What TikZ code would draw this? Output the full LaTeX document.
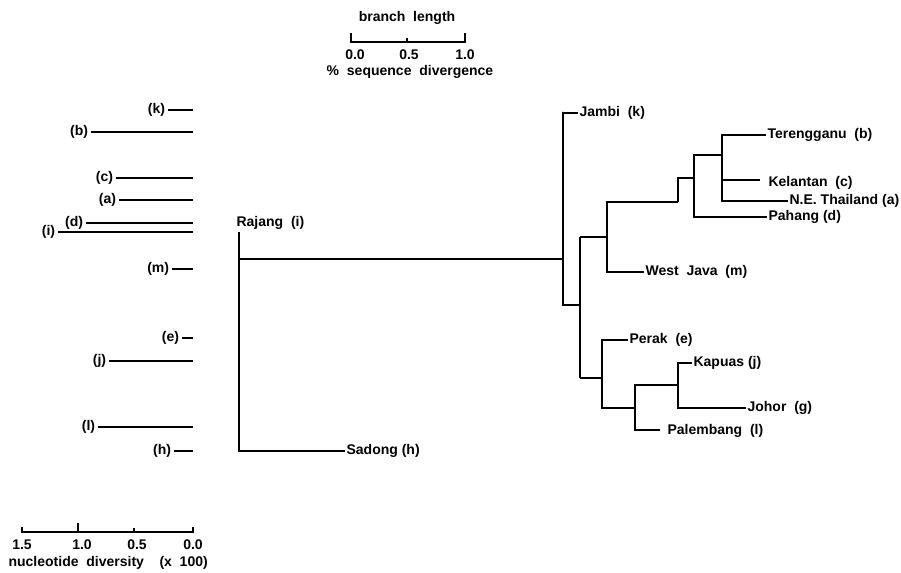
\documentclass[tikz,border=0pt]{standalone}
\usepackage{fontspec}
\setmainfont{Liberation Sans}
\begin{document}
\begin{tikzpicture}[x=0.75pt,y=-0.75pt,
  lab/.style={font=\bfseries\fontsize{10.5pt}{12pt}\selectfont, inner sep=1pt},
  bar/.style={line width=1.9pt},
  br/.style={line width=1.1pt},
  sc/.style={line width=0.9pt}]
\useasboundingbox (0,0) rectangle (901,573);
% ---------- top scale ----------
\node[lab] (bl) at (407,18) {branch\ \ length};
\coordinate (s0) at (351,42); \coordinate (s1) at (465,42); \coordinate (sh) at (407,42);
\draw[sc] ([yshift=7]s0) -- (s0) -- (s1) -- ([yshift=7]s1);
\draw[sc] (sh) -- ([yshift=3]sh);
\node[lab] (t0) at (355,55) {0.0};
\node[lab] (t5) at (409,55) {0.5};
\node[lab] (t1) at (465,55) {1.0};
\node[lab] (sd) at (410,72) {\%\ \ sequence\ \ divergence};
% ---------- left bars ----------
\foreach \n/\x/\y in {k/168/110, b/91/132, c/116/178, a/119/200, d/86/223, i/58/232, m/172/269, e/182/338, j/109/361, l/98/427, h/174/451}{
  \coordinate (L\n) at (\x,\y);
  \coordinate (E\n) at (193,\y);
  \draw[bar] (L\n) -- (E\n);
  \node[lab, anchor=east] (N\n) at ([xshift=-1]L\n) {(\n)};
}
% ---------- bottom scale ----------
\coordinate (b15) at (22,532); \coordinate (b10) at (78,532); \coordinate (b05) at (134,532); \coordinate (b00) at (193,532);
\draw[sc] ([yshift=4]b15) -- (b15) -- (b00) -- ([yshift=4]b00);
\draw[sc] (b10) -- ([yshift=7]b10);
\draw[sc] (b05) -- ([yshift=3]b05);
\node[lab] (l15) at (22,545) {1.5};
\node[lab] (l10) at (82,545) {1.0};
\node[lab] (l05) at (137,545) {0.5};
\node[lab] (l00) at (193,545) {0.0};
\node[lab, anchor=west] (nd) at (7,563) {nucleotide\ \ diversity\ \ \ \ (x\ \ 100)};
% ---------- tree ----------
\coordinate (rt) at (239,232);
\coordinate (rb) at (239,451);
\coordinate (r0) at (239,259);
\coordinate (nA) at (563,259);
\coordinate (nAt) at (563,112);
\coordinate (nAb) at (563,305);
\coordinate (nB) at (580,305);
\coordinate (nBt) at (580,237);
\coordinate (nBb) at (580,378);
\coordinate (nC) at (607,237);
\coordinate (nD) at (678,202);
\coordinate (nE) at (694,178);
\coordinate (nF) at (722,155);
\coordinate (nFt) at (722,135);
\coordinate (nG) at (602,378);
\coordinate (nH) at (635,408);
\coordinate (nI) at (678,385);
\coordinate (kelE) at (760,180);
\coordinate (palE) at (660,430);

\node[lab, anchor=west] (rajang) at (235,223) {Rajang\ \ (i)};
\node[lab, anchor=west] (sadong) at (345,451) {Sadong (h)};
\node[lab, anchor=west] (jambi) at (578,113) {Jambi\ \ (k)};
\node[lab, anchor=west] (teren) at (766,135) {Terengganu\ \ (b)};
\node[lab, anchor=west] (kelan) at (767,183) {Kelantan\ \ (c)};
\node[lab, anchor=west] (thai) at (788,201) {N.E. Thailand (a)};
\node[lab, anchor=west] (pahang) at (767,217) {Pahang (d)};
\node[lab, anchor=west] (wjava) at (644,272) {West\ \ Java\ \ (m)};
\node[lab, anchor=west] (perak) at (628,340) {Perak\ \ (e)};
\node[lab, anchor=west] (kapuas) at (692,363) {Kapuas (j)};
\node[lab, anchor=west] (johor) at (746,408) {Johor\ \ (g)};
\node[lab, anchor=west] (palem) at (666,431) {Palembang\ \ (l)};

\draw[br] (rt) -- (rb) -- (sadong.west);
\draw[br] (r0) -- (nA);
\draw[br] (jambi.west) -| (nAt) -- (nAb) -- (nB);
\draw[br] (nBt) -- (nBb);
\draw[br] (nBt) -- (nC);
\draw[br] (nD) -| (nC) |- (wjava.west);
\draw[br] (nE) |- (pahang.west);
\draw[br] (nD) |- (nE);
\draw[br] (nF) |- (thai.west);
\draw[br] (nE) |- (nF);
\draw[br] (teren.west) -- (nFt) -- (nF) |- (kelE);
\draw[br] (nBb) -- (nG);
\draw[br] (nG) |- (perak.west);
\draw[br] (nG) |- (nH);
\draw[br] (nH) |- (palE);
\draw[br] (nH) |- (nI);
\draw[br] (nI) |- (kapuas.west);
\draw[br] (nI) |- (johor.west);
\end{tikzpicture}
\end{document}
